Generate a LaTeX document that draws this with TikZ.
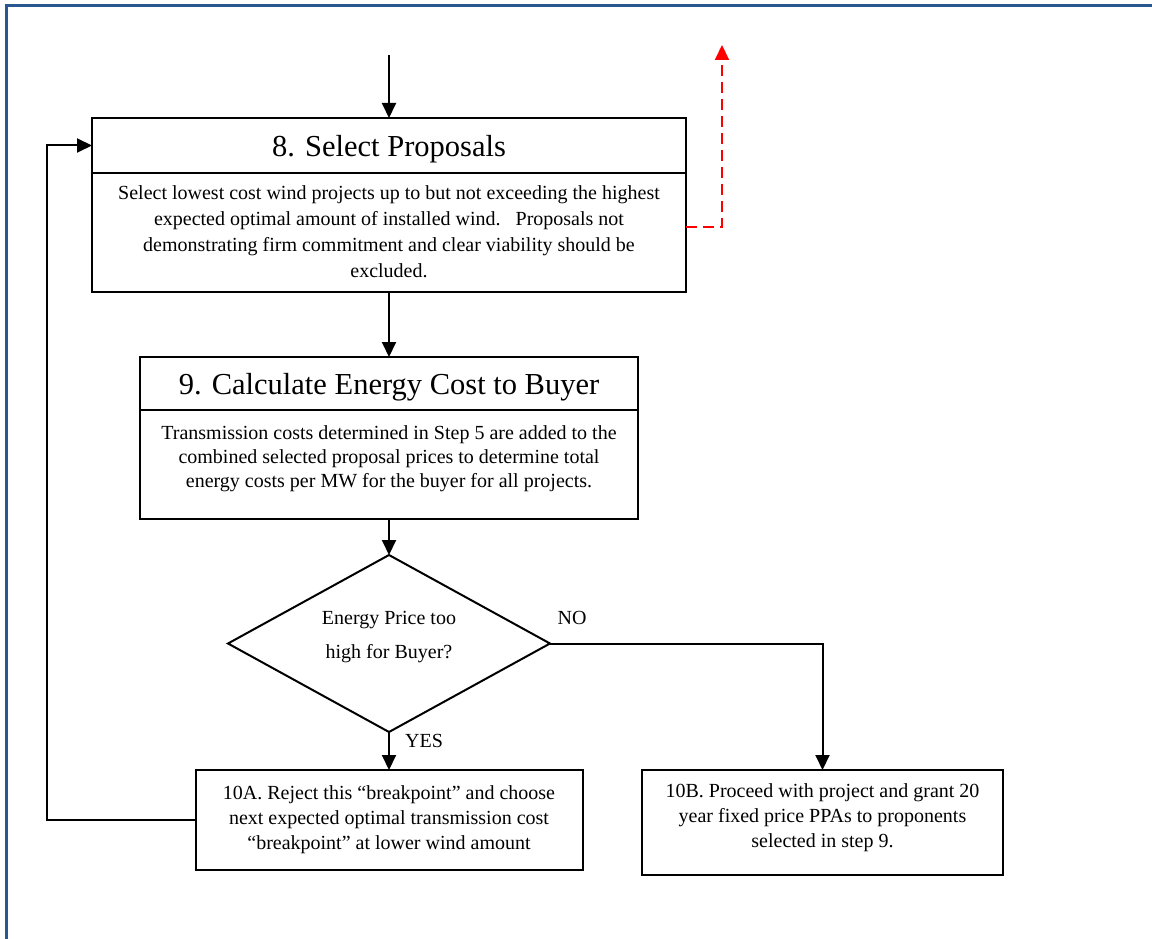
\documentclass[tikz,border=0pt]{standalone}
\usepackage{fontspec}
\setmainfont{Liberation Serif}
\usetikzlibrary{shapes.geometric,arrows.meta}
\definecolor{frameblue}{RGB}{41,87,145}
\tikzset{
  boxstyle/.style={draw=black, line width=2pt, rectangle, inner sep=0pt, outer sep=0pt, align=center,
    font=\fontsize{20}{25}\selectfont},
  titlestyle/.style={boxstyle, text depth=0pt, font=\fontsize{30.5}{36}\selectfont},
  arr/.style={draw=black, line width=2pt, -{Triangle[length=15pt,width=14pt]}},
  redarr/.style={draw=red, line width=2pt, dash pattern=on 11pt off 6pt, -{Triangle[length=15pt,width=14pt]}},
  lbl/.style={font=\fontsize{20}{25}\selectfont, inner sep=0pt}
}
\begin{document}
\begin{tikzpicture}[x=1pt,y=-1pt]
\useasboundingbox (0,0) rectangle (1152,939);
% frame
\draw[frameblue, line width=3pt] (6,939) -- (6,6) -- (1152,6);

% box 8
\node[titlestyle, minimum width=594pt, minimum height=55pt] (h8) at (389,145.5) {8. Select Proposals};
\node[boxstyle, minimum width=594pt, minimum height=119pt, anchor=north] (b8) at (h8.south) {};
\node[lbl, align=center, font=\fontsize{20}{26}\selectfont] (t8) at (389,232) {Select lowest cost wind projects up to but not exceeding the highest\\expected optimal amount of installed wind.\ \ \ Proposals not\\demonstrating firm commitment and clear viability should be\\excluded.};

% box 9
\node[titlestyle, minimum width=498pt, minimum height=53pt] (h9) at (389,383.5) {9. Calculate Energy Cost to Buyer};
\node[boxstyle, minimum width=498pt, minimum height=109pt, anchor=north] (b9) at (h9.south) {};
\node[lbl, align=center, font=\fontsize{20}{24}\selectfont] (t9) at (389,459) {Transmission costs determined in Step 5 are added to the\\combined selected proposal prices to determine total\\energy costs per MW for the buyer for all projects.};

% diamond
\node[diamond, draw=black, line width=2pt, minimum width=322pt, minimum height=177pt, inner sep=0pt, outer sep=0pt] (d) at (389,643.5) {};
\node[lbl, align=center, font=\fontsize{20}{34}\selectfont] (td) at (389,637) {Energy Price too\\high for Buyer?};

% 10A, 10B
\node[boxstyle, minimum width=387pt, minimum height=100pt] (a10) at (389,820) {10A. Reject this “breakpoint” and choose\\next expected optimal transmission cost\\“breakpoint” at lower wind amount};
\node[boxstyle, minimum width=361pt, minimum height=105pt] (b10) at (822.5,822.5) {};
\node[lbl, align=center] (tb10) at (822.5,818) {10B. Proceed with project and grant 20\\year fixed price PPAs to proponents\\selected in step 9.};

% labels
\node[lbl] (no) at (572,618) {NO};
\node[lbl] (yes) at (424,741) {YES};

% connectors
\coordinate (start) at (389,55);
\coordinate (fb) at (47,821);
\coordinate (redtop) at (722,45);
\draw[arr] (start) -- (h8.north);
\draw[arr] (b8.south) -- (h9.north);
\draw[arr] (b9.south) -- (d.north);
\draw[arr] (d.south) -- (a10.north);
\draw[arr] (d.east) -| (b10.north);
\draw[arr] (a10.west) -- (a10.west -| fb) |- (h8.west);
\draw[redarr] (b8.east |- 0,227) -| (redtop);
\end{tikzpicture}
\end{document}
